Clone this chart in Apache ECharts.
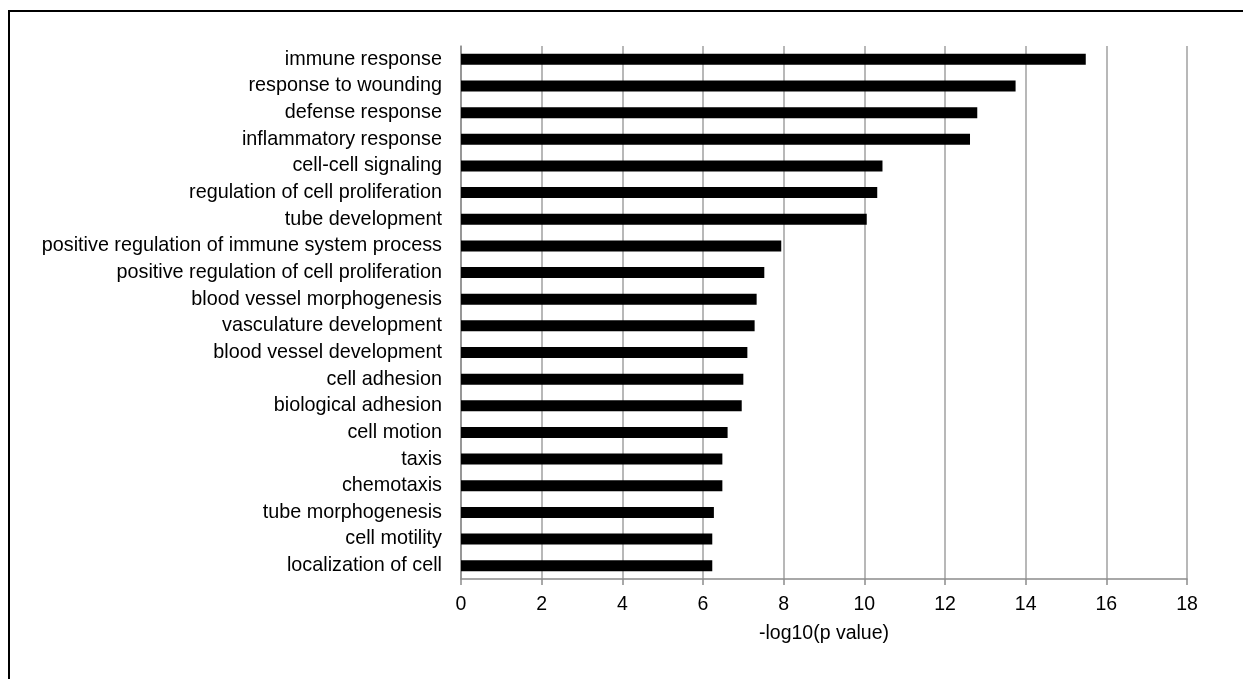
<!DOCTYPE html>
<html>
<head>
<meta charset="utf-8">
<script src="https://cdn.jsdelivr.net/npm/echarts@6/dist/echarts.min.js"></script>
<style>html,body{margin:0;padding:0;background:#fff;}#c{width:1243px;height:679px;}</style>
</head>
<body>
<div id="c"></div>
<script>
const categories = [
  "immune response",
  "response to wounding",
  "defense response",
  "inflammatory response",
  "cell-cell signaling",
  "regulation of cell proliferation",
  "tube development",
  "positive regulation of immune system process",
  "positive regulation of cell proliferation",
  "blood vessel morphogenesis",
  "vasculature development",
  "blood vessel development",
  "cell adhesion",
  "biological adhesion",
  "cell motion",
  "taxis",
  "chemotaxis",
  "tube morphogenesis",
  "cell motility",
  "localization of cell"
];
const values = [15.49, 13.75, 12.80, 12.62, 10.45, 10.32, 10.06, 7.94, 7.52, 7.33, 7.28, 7.10, 7.00, 6.96, 6.61, 6.48, 6.48, 6.27, 6.23, 6.23];
const axisTitle = "-log10(p value)";

const chart = echarts.init(document.getElementById('c'), null, {renderer: 'canvas'});
const font = "Liberation Sans, Arial, sans-serif";
chart.setOption({
  animation: false,
  backgroundColor: '#fff',
  graphic: [{
    type: 'rect',
    shape: {x: 9, y: 11, width: 1400, height: 800},
    style: {fill: 'none', stroke: '#000', lineWidth: 2},
    silent: true
  }],
  grid: {left: 461, right: 56, top: 46, bottom: 100, containLabel: false},
  xAxis: {
    type: 'value', min: 0, max: 18, interval: 2,
    name: axisTitle, nameLocation: 'middle', nameGap: 45,
    nameTextStyle: {fontFamily: font, fontSize: 19.5, color: '#000'},
    axisLine: {show: true, lineStyle: {color: '#8c8c8c', width: 1.5}},
    axisTick: {show: true, length: 6, lineStyle: {color: '#8c8c8c', width: 1.5}},
    axisLabel: {fontFamily: font, fontSize: 19.5, color: '#000', margin: 16},
    splitLine: {show: true, lineStyle: {color: '#a0a0a0', width: 1.5}}
  },
  yAxis: {
    type: 'category', data: categories, inverse: true,
    axisLine: {show: true, lineStyle: {color: '#8c8c8c', width: 1.5}},
    axisTick: {show: false},
    axisLabel: {fontFamily: font, fontSize: 19.8, color: '#000', margin: 19}
  },
  series: [{
    type: 'bar', data: values, barWidth: 11,
    itemStyle: {color: '#000'}
  }]
});
</script>
</body>
</html>
